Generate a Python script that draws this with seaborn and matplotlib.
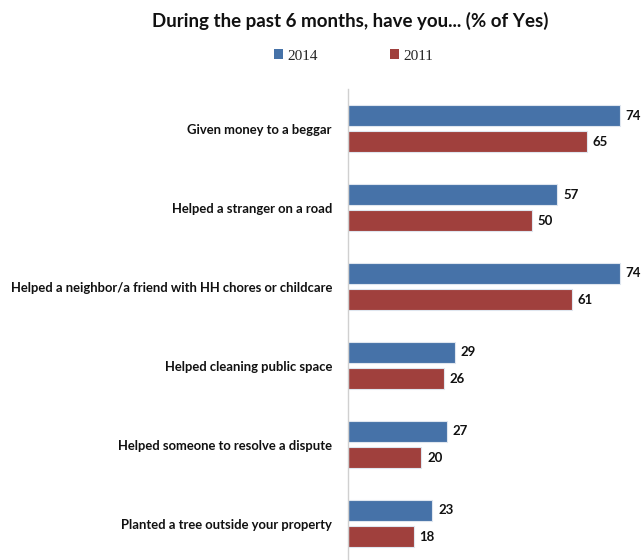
import matplotlib
matplotlib.use("Agg")
import matplotlib.pyplot as plt
import matplotlib.patches as mpatches
import seaborn as sns
import pandas as pd

categories = [
    "Given money to a beggar",
    "Helped a stranger on a road",
    "Helped a neighbor/a friend with HH chores or childcare",
    "Helped cleaning public space",
    "Helped someone to resolve a dispute",
    "Planted a tree outside your property",
]
years = ["2014", "2011"]
values_2014 = [74, 57, 74, 29, 27, 23]
values_2011 = [65, 50, 61, 26, 20, 18]

colors = {"2014": "#4672A8", "2011": "#A0403D"}

df = pd.DataFrame({
    "category": categories * 2,
    "year": ["2014"] * len(categories) + ["2011"] * len(categories),
    "value": values_2014 + values_2011,
})

sns.set_theme(style="white")
plt.rcParams["font.family"] = ["Lato", "DejaVu Sans"]

fig = plt.figure(figsize=(6.42, 5.6), dpi=100)
ax = fig.add_axes([0.542, -0.0054, 0.458, 0.8464])

sns.barplot(
    data=df, y="category", x="value", hue="year", hue_order=years,
    order=categories, palette=colors, saturation=1, orient="h",
    width=0.66, gap=0.18, edgecolor="#dfe6ef", linewidth=0.8,
    legend=False, ax=ax,
)

for container in ax.containers:
    ax.bar_label(container, fmt="%d", padding=4, fontsize=9.5,
                 fontweight="bold", color="#111111")

ax.set_xlim(0, 80)
ax.set_ylim(5.5, -0.5)
ax.set_xlabel("")
ax.set_ylabel("")
ax.set_xticks([])
ax.tick_params(axis="y", length=0, pad=11.5)
for lbl in ax.get_yticklabels():
    lbl.set_fontsize(9.4)
    lbl.set_fontweight("bold")
    lbl.set_color("#111111")

for side in ["top", "right", "bottom"]:
    ax.spines[side].set_visible(False)
ax.spines["left"].set_color("#d0d0d0")
ax.spines["left"].set_linewidth(1.0)

fig.text(0.545, 0.962, "During the past 6 months, have you... (% of Yes)",
         ha="center", va="center", fontsize=13.5, fontweight="bold",
         color="#111111")

handles = [mpatches.Patch(facecolor=colors[y], edgecolor="none", label=y)
           for y in years]
fig.legend(handles=handles, loc="center", bbox_to_anchor=(0.551, 0.900),
           ncol=2, frameon=False, handlelength=0.6, handleheight=0.6,
           handletextpad=0.3, columnspacing=4.7,
           prop={"family": "Liberation Serif", "size": 11})

fig.savefig("out.png", dpi=100)
